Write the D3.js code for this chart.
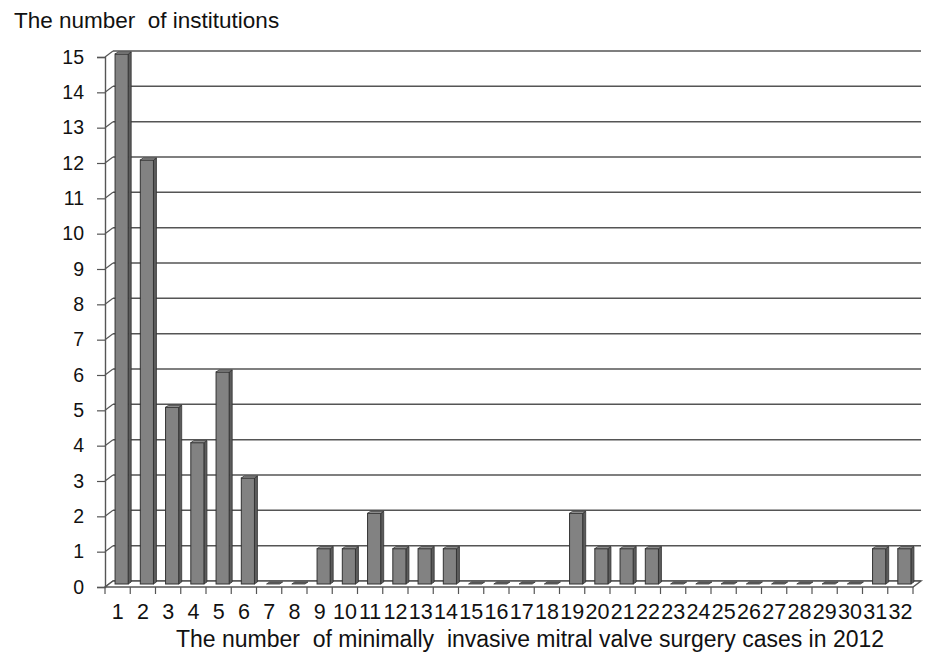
<!DOCTYPE html>
<html>
<head>
<meta charset="utf-8">
<script src="https://cdn.jsdelivr.net/npm/d3@7"></script>
<style>
  html, body { margin: 0; padding: 0; background: #fff; }
  svg { display: block; }
</style>
</head>
<body>
<svg id="chart" width="929" height="655"></svg>
<script>
// ---- data ----
const categories = ["1","2","3","4","5","6","7","8","9","10","11","12","13","14","15","16","17","18","19","20","21","22","23","24","25","26","27","28","29","30","31","32"];
const values = [15,12,5,4,6,3,0,0,1,1,2,1,1,1,0,0,0,0,2,1,1,1,0,0,0,0,0,0,0,0,1,1];
const yTicks = [0,1,2,3,4,5,6,7,8,9,10,11,12,13,14,15];
const yTitle = "The number  of institutions";
const xTitle = "The number  of minimally  invasive mitral valve surgery cases in 2012";

// ---- layout ----
const svg = d3.select("#chart");
const frontLeft = 105, frontRight = 913;
const depthX = 8, depthY = -6;

const x = d3.scaleBand().domain(categories).range([frontLeft, frontRight]).padding(0);
const y = d3.scaleLinear().domain([0, 15]).range([587, 57]);

const gridColor = "#555";
const font = "'Liberation Sans', Arial, sans-serif";

// back wall gridlines
svg.append("g").selectAll("line").data(yTicks).join("line")
  .attr("x1", frontLeft + depthX).attr("x2", frontRight + depthX)
  .attr("y1", d => y(d) + depthY).attr("y2", d => y(d) + depthY)
  .attr("stroke", gridColor).attr("stroke-width", 1.5);

// left wall connectors (front tick to back wall)
svg.append("g").selectAll("line").data(yTicks).join("line")
  .attr("x1", frontLeft).attr("x2", frontLeft + depthX)
  .attr("y1", d => y(d)).attr("y2", d => y(d) + depthY)
  .attr("stroke", gridColor).attr("stroke-width", 1.2);

// floor
const floorPts = [
  [frontLeft, y(0)], [frontRight, y(0)],
  [frontRight + depthX, y(0) + depthY], [frontLeft + depthX, y(0) + depthY]
];
svg.append("path")
  .attr("d", "M" + floorPts.map(p => p.join(",")).join("L") + "Z")
  .attr("fill", "#fff").attr("stroke", gridColor).attr("stroke-width", 1.4);

// y axis (front)
const yAxis = d3.axisLeft(y).tickValues(yTicks).tickSize(8).tickPadding(13).tickFormat(d3.format("d"));
const gy = svg.append("g").attr("transform", `translate(${frontLeft},0)`).call(yAxis);
gy.select(".domain").attr("stroke", gridColor).attr("stroke-width", 1.4);
gy.selectAll(".tick line").attr("stroke", gridColor).attr("stroke-width", 1.2);
gy.selectAll(".tick text").attr("font-family", font).attr("font-size", 19.5).attr("fill", "#111");

// x axis labels (front)
const xAxis = d3.axisBottom(x).tickSize(0).tickPadding(17);
const gx = svg.append("g").attr("transform", `translate(0,${y(0)})`).call(xAxis);
gx.select(".domain").remove();
gx.selectAll(".tick text").attr("font-family", font).attr("font-size", 21.5).attr("fill", "#111");

// x boundary ticks
const bounds = categories.map(c => x(c)).concat([x(categories[categories.length - 1]) + x.bandwidth()]);
svg.append("g").selectAll("line").data(bounds).join("line")
  .attr("x1", d => d).attr("x2", d => d)
  .attr("y1", y(0)).attr("y2", y(0) + 7)
  .attr("stroke", gridColor).attr("stroke-width", 1.2);

// bars (pseudo 3D)
const bw = x.bandwidth() * 0.52;
const mdx = 4, mdy = -3;     // bar placed at mid depth
const sdx = 3, sdy = -2;     // bar thickness
const bars = svg.append("g").selectAll("g").data(categories.map((c, i) => ({c, v: values[i]}))).join("g");

bars.each(function(d) {
  const g = d3.select(this);
  const x0 = x(d.c) + x.bandwidth() * 0.24 + mdx;
  const yb = y(0) + mdy;
  const yt = y(d.v) + mdy;
  if (d.v > 0) {
    g.append("path")
      .attr("d", `M${x0 + bw},${yt}L${x0 + bw + sdx},${yt + sdy}L${x0 + bw + sdx},${yb + sdy}L${x0 + bw},${yb}Z`)
      .attr("fill", "#5c5c5c").attr("stroke", "#333").attr("stroke-width", 0.8);
    g.append("rect")
      .attr("x", x0).attr("y", yt).attr("width", bw).attr("height", yb - yt)
      .attr("fill", "#828282").attr("stroke", "#333").attr("stroke-width", 1);
  }
  g.append("path")
    .attr("d", `M${x0},${yt}L${x0 + sdx},${yt + sdy}L${x0 + bw + sdx},${yt + sdy}L${x0 + bw},${yt}Z`)
    .attr("fill", d.v > 0 ? "#9a9a9a" : "#6e6e6e").attr("stroke", "#333").attr("stroke-width", 0.8);
});

// titles
svg.append("text").attr("x", 14).attr("y", 28)
  .attr("font-family", font).attr("font-size", 22.5).attr("fill", "#111")
  .style("white-space", "pre").text(yTitle);
svg.append("text").attr("x", 530).attr("y", 647).attr("text-anchor", "middle")
  .attr("font-family", font).attr("font-size", 23).attr("fill", "#111")
  .style("white-space", "pre").text(xTitle);
</script>
</body>
</html>
